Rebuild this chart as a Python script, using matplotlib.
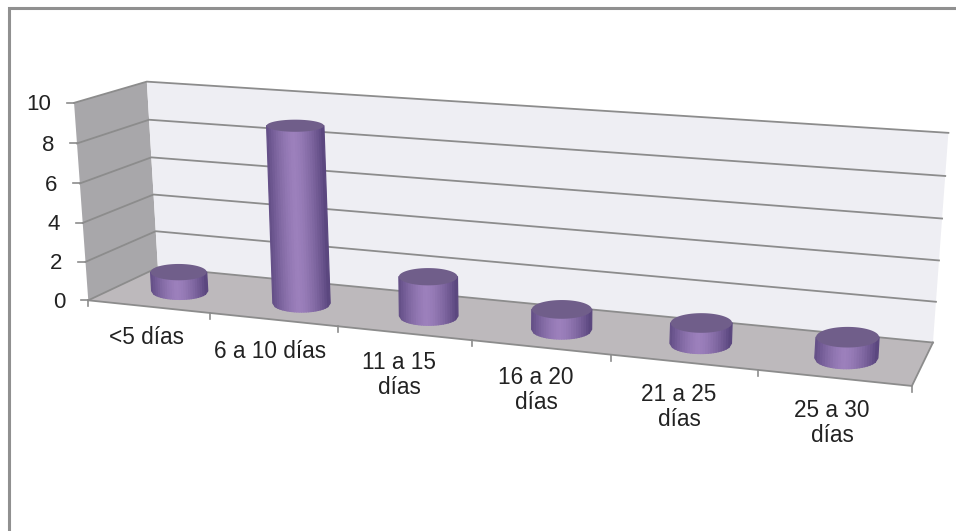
import numpy as np
import matplotlib
matplotlib.use('Agg')
import matplotlib.pyplot as plt
from matplotlib.collections import PolyCollection

categories = ['<5 días', '6 a 10 días', '11 a 15\ndías', '16 a 20\ndías', '21 a 25\ndías', '25 a 30\ndías']
values = [1, 9, 2, 1, 1, 1]
y_ticks = [0, 2, 4, 6, 8, 10]

plt.rcParams['font.family'] = ['Liberation Sans', 'DejaVu Sans']

# pixel positions of the corners of the 3d box, (category, depth, value) -> (x, y)
box_points = [
    ((0, 0, 0), (88, 298)), ((6, 0, 0), (912, 386)),
    ((0, 1, 0), (158, 270)), ((6, 1, 0), (933, 342)),
    ((0, 0, 10), (74, 102)), ((6, 0, 10), (928, 165)),
    ((0, 1, 10), (147, 82)), ((6, 1, 10), (948, 130)),
]


def fit_camera(points):
    rows = []
    for (u, d, z), (x, y) in points:
        rows.append([u, d, z, 1, 0, 0, 0, 0, -x * u, -x * d, -x * z, -x])
        rows.append([0, 0, 0, 0, u, d, z, 1, -y * u, -y * d, -y * z, -y])
    return np.linalg.svd(np.array(rows, dtype=float))[2][-1].reshape(3, 4)


camera = fit_camera(box_points)


def project(u, d, z):
    u, d, z = np.broadcast_arrays(np.asarray(u, float), np.asarray(d, float), np.asarray(z, float))
    p = camera @ np.array([u, d, z, np.ones_like(u)])
    return p[0] / p[2], p[1] / p[2]


def poly(pts):
    return np.column_stack(project(*np.array(pts, dtype=float).T))


def shade(t):
    dark = np.array([0x5c, 0x48, 0x80]) / 255
    light = np.array([0x9c, 0x80, 0xbc]) / 255
    return dark + (light - dark) * t


fig = plt.figure(figsize=(9.56, 5.31), dpi=100)
ax = fig.add_axes([0, 0, 1, 1])
ax.set_xlim(0, 956)
ax.set_ylim(531, 0)
ax.axis('off')

# frame of the chart
ax.plot([9.5, 9.5, 956], [531, 8, 8], color='#909090', lw=2.2, solid_joinstyle='miter', solid_capstyle='butt')

# walls
ax.fill(*poly([(0, 0, 0), (0, 1, 0), (0, 1, 10), (0, 0, 10)]).T, color='#a8a7aa', lw=0)
ax.fill(*poly([(0, 1, 0), (6, 1, 0), (6, 1, 10), (0, 1, 10)]).T, color='#eeeef3', lw=0)
ax.fill(*poly([(0, 0, 0), (6, 0, 0), (6, 1, 0), (0, 1, 0)]).T, color='#bdb9bc', lw=0)

# gridlines
for v in y_ticks:
    xs, ys = project([0, 0, 6], [0, 1, 1], [v, v, v])
    ax.plot(xs, ys, color='#8c8c8c', lw=1.3, zorder=2)
    x0, y0 = project(0, 0, v)
    ax.plot([x0 - 7, x0], [y0, y0], color='#8c8c8c', lw=1.2, zorder=2)
    ax.text(x0 - 23, y0 + 2, str(v), ha='right', va='center', fontsize=16, color='#222222')

# floor front edge, right edge and ticks
xs, ys = project([0, 6, 6], [0, 0, 1], [0, 0, 0])
ax.plot(xs, ys, color='#8c8c8c', lw=1.3, zorder=2)
for i in range(len(categories) + 1):
    x0, y0 = project(i, 0, 0)
    ax.plot([x0, x0], [y0, y0 + 6], color='#8c8c8c', lw=1.2, zorder=2)

# cylinders, ellipses stay flat on screen
depth = 0.45
radius_d = 0.25
strip = np.linspace(-1, 1, 25)
for i, value in enumerate(values):
    cx, cy = project(i + 0.5, depth, 0)
    tx, ty = project(i + 0.5, depth, value)
    spacing = project(i + 1, 0, 0)[0] - project(i, 0, 0)[0]
    half_w = 14.6 + 0.11 * spacing
    base_h = (project(i + 0.5, depth - radius_d, 0)[1] - project(i + 0.5, depth + radius_d, 0)[1]) / 2
    top_h = (project(i + 0.5, depth - radius_d, value)[1] - project(i + 0.5, depth + radius_d, value)[1]) / 2
    quads = []
    colors = []
    for a, b in zip(strip[:-1], strip[1:]):
        quads.append([
            (cx + half_w * a, cy + base_h * np.sqrt(1 - a ** 2)),
            (cx + half_w * b, cy + base_h * np.sqrt(1 - b ** 2)),
            (tx + half_w * b, ty),
            (tx + half_w * a, ty),
        ])
        colors.append(shade(1 - abs((a + b) / 2 + 0.05) ** 1.5))
    ax.add_collection(PolyCollection(quads, facecolors=colors, edgecolors=colors, linewidths=0.9, zorder=3 + i))
    t = np.linspace(0, 2 * np.pi, 120)
    ax.fill(tx + half_w * np.cos(t), ty + top_h * np.sin(t), color='#705e8a', lw=0, zorder=3 + i)

# category labels
label_pos = [(147, 337), (270, 351), (399, 375), (536, 390), (679, 407), (832, 423)]
for label, (lx, ly) in zip(categories, label_pos):
    ax.text(lx, ly, label, ha='center', va='center', fontsize=16.3, color='#222222', linespacing=1.1)

fig.savefig('out.png', dpi=100)
